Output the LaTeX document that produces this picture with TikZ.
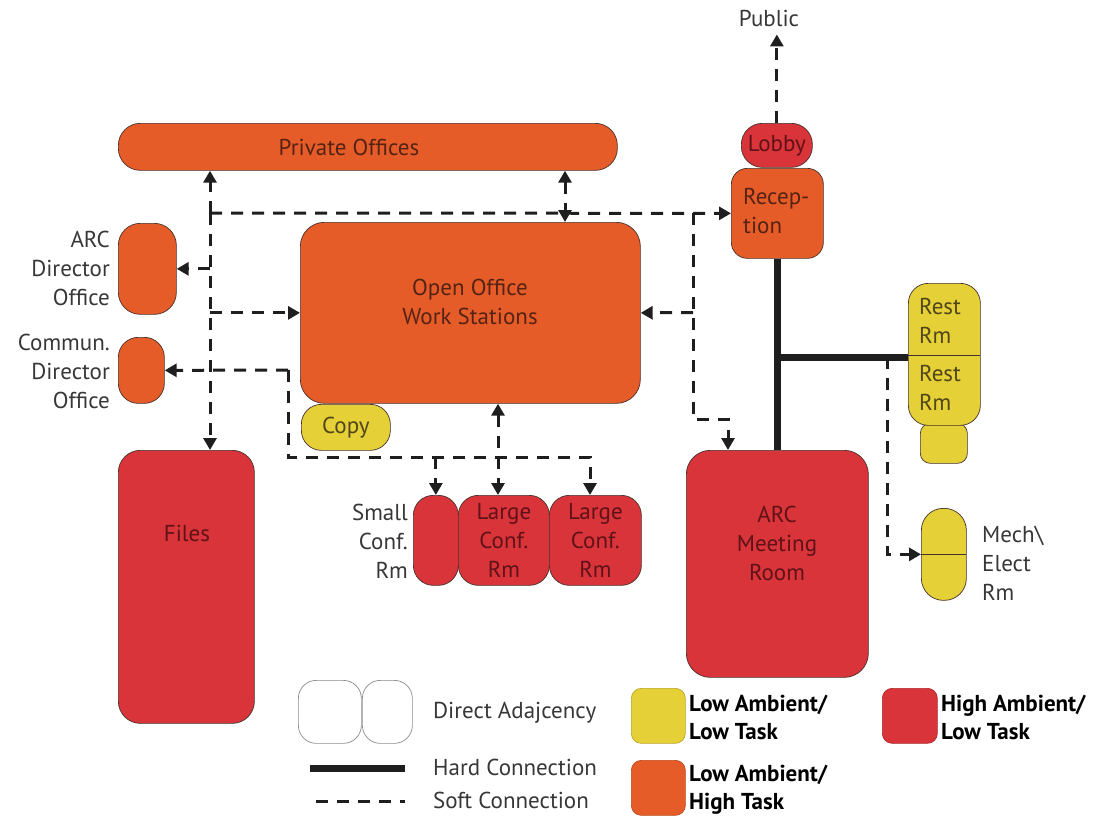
\documentclass[tikz,border=0pt]{standalone}
\usepackage{fontspec}
\setmainfont{PT Sans}
\usetikzlibrary{arrows.meta,calc}
\definecolor{cOr}{RGB}{230,92,40}
\definecolor{cRd}{RGB}{216,52,58}
\definecolor{cYl}{RGB}{229,208,55}
\definecolor{cEdge}{RGB}{70,50,45}
\definecolor{tOr}{RGB}{85,35,20}
\definecolor{tRd}{RGB}{95,18,24}
\definecolor{tYl}{RGB}{80,70,25}
\definecolor{cTx}{RGB}{55,55,55}
\definecolor{cLn}{RGB}{30,30,30}
\newcommand\roomfnt{\fontsize{23}{29}\selectfont}
\newcommand\legfnt{\fontsize{23}{28}\selectfont\bfseries}
\begin{document}
\begin{tikzpicture}[x=1pt,y=-1pt,
  room/.style={draw=cEdge,line width=0.7pt,inner sep=0pt,anchor=north west,align=center,font=\roomfnt},
  orr/.style={room,fill=cOr,text=tOr},
  rdr/.style={room,fill=cRd,text=tRd},
  ylr/.style={room,fill=cYl,text=tYl},
  lbl/.style={text=cTx,font=\roomfnt,inner sep=0pt},
  leg/.style={text=black,font=\legfnt,inner sep=0pt,align=left,anchor=west},
  soft/.style={draw=cLn,line width=3pt,dash pattern=on 12pt off 9pt},
  hard/.style={draw=cLn,line width=7pt},
  divline/.style={draw=cEdge,line width=0.7pt},
  >={Triangle[length=12pt,width=13pt]}]
\useasboundingbox (0,0) rectangle (1102,820);

% ---------- rooms ----------
\node[orr,rounded corners=22pt,minimum width=499pt,minimum height=47pt] (priv) at (118,123) {};
\node[text=tOr,font=\roomfnt,inner sep=0pt] (privtxt) at (349,147) {Private Offices};
\node[rdr,rounded corners=21pt,minimum width=71pt,minimum height=44pt] (lobby) at (741,123) {Lobby};
\node[orr,rounded corners=16pt,minimum width=92pt,minimum height=90pt] (recep) at (731,168) {};
\node[text=tOr,font=\roomfnt,inner sep=0pt,align=left,anchor=west] (receptxt) at (743,211) {Recep-\\tion};
\node[orr,rounded corners=24pt,minimum width=340pt,minimum height=181pt] (open) at (300,222) {};
\node[text=tOr,font=\roomfnt,inner sep=0pt,align=center] (opentxt) at (470,302) {Open Office\\Work Stations};
\node[ylr,rounded corners=20pt,minimum width=89pt,minimum height=46pt] (copy) at (301,404) {Copy};
\node[orr,rounded corners=22pt,minimum width=58pt,minimum height=91pt] (arcdir) at (118,223) {};
\node[orr,rounded corners=20pt,minimum width=46pt,minimum height=66pt] (comm) at (118,337) {};
\node[rdr,rounded corners=22pt,minimum width=136pt,minimum height=273pt] (files) at (118,450) {};
\node[text=tRd,font=\roomfnt,inner sep=0pt] (filestxt) at (187,533) {Files};
\node[rdr,rounded corners=20pt,minimum width=45pt,minimum height=90pt] (sconf) at (413,495) {};
\node[rdr,rounded corners=20pt,minimum width=91pt,minimum height=90pt] (lconfA) at (458,495) {Large\\Conf.\\Rm};
\node[rdr,rounded corners=20pt,minimum width=92pt,minimum height=90pt] (lconfB) at (549,495) {Large\\Conf.\\Rm};
\node[rdr,rounded corners=24pt,minimum width=182pt,minimum height=227pt] (meet) at (686,450) {};
\node[text=tRd,font=\roomfnt,inner sep=0pt,align=center] (meettxt) at (777,543) {ARC\\Meeting\\Room};
\node[ylr,rounded corners=10pt,minimum width=47pt,minimum height=40pt] (restsm) at (920,423) {};
\node[ylr,rounded corners=20pt,minimum width=72pt,minimum height=142pt] (restcol) at (908,283) {};
\draw[divline] (908,355) -- (980,355);
\node[text=tYl,font=\roomfnt,inner sep=0pt,align=left,anchor=west] (restA) at (919,321) {Rest\\Rm};
\node[text=tYl,font=\roomfnt,inner sep=0pt,align=left,anchor=west] (restB) at (919,388) {Rest\\Rm};
\node[ylr,rounded corners=22pt,minimum width=45pt,minimum height=92pt] (mech) at (921,508) {};
\draw[divline] (921,554) -- (966,554);

% ---------- outside labels ----------
\node[lbl] (public) at (769,18) {Public};
\node[lbl,align=right,anchor=east] (arcdirtxt) at (110,268) {ARC\\Director\\Office};
\node[lbl,align=right,anchor=east] (commtxt) at (110,371) {Commun.\\Director\\Office};
\node[lbl,align=right,anchor=east] (sconftxt) at (408,541) {Small\\Conf.\\Rm};
\node[lbl,align=left,anchor=west] (mechtxt) at (982,563) {Mech\textbackslash\\Elect\\Rm};

% ---------- junctions ----------
\coordinate (jTL) at (210,213);
\coordinate (jTM) at (565,213);
\coordinate (jTR) at (693,213);
\coordinate (jOR) at (693,312.5);
\coordinate (jMR) at (693,419);
\coordinate (jMA) at (728,419);
\coordinate (jBL) at (288,457);
\coordinate (jCL) at (288,370);
\coordinate (jBM) at (498,457);
\coordinate (jBR) at (590,457);
\coordinate (jR) at (887,357);

% ---------- hard connections ----------
\draw[hard] (recep.south) -- (recep.south |- meet.north);
\draw[hard] (recep.south |- jR) -- (restcol.west |- jR);

% ---------- soft connections ----------
\draw[soft,->] (lobby.north) -- ($(lobby.north |- public.south)+(0,8)$);
\draw[soft,->] (jTL) -- (recep.west);
\draw[soft,->] (jTL) -- (jTL |- priv.south);
\draw[soft,->] (jTL) -- (jTL |- files.north);
\draw[soft,<->] (jTM |- priv.south) -- (jTM |- open.north);
\draw[soft,->] (jTR) -- (jMR) -- (jMA) -- (jMA |- meet.north);
\draw[soft,->] (jOR) -- (open.east);
\draw[soft,->] (jTL |- arcdir.east) -- (arcdir.east);
\draw[soft,->] (jTL |- open.west) -- (open.west);
\draw[soft,->] (jCL) -- (comm.east);
\draw[soft,->] (jCL) -- (jBL) -- (jBR) -- (jBR |- lconfB.north);
\draw[soft,->] (sconf.north |- jBL) -- (sconf.north);
\draw[soft,<->] (jBM |- open.south) -- (jBM |- lconfA.north);
\draw[soft,->] (jR) |- (mech.west);

% ---------- legend ----------
\node[room,draw=black!45,fill=white,rounded corners=18pt,minimum width=63pt,minimum height=63pt] (legA) at (298,680) {};
\node[room,draw=black!45,fill=white,rounded corners=18pt,minimum width=50pt,minimum height=63pt] (legB) at (362,680) {};
\node[lbl,anchor=west] (legAtxt) at (433,713) {Direct Adajcency};
\coordinate (legH1) at (310,768);
\coordinate (legH2) at (405,768);
\draw[hard] (legH1) -- (legH2);
\node[lbl,anchor=west] (legHtxt) at (433,767) {Hard Connection};
\coordinate (legS1) at (316,801);
\coordinate (legS2) at (405,801);
\draw[soft] (legS1) -- (legS2);
\node[lbl,anchor=west] (legStxt) at (433,800) {Soft Connection};
\node[room,fill=cYl,draw=cYl!80!black,rounded corners=10pt,minimum width=54pt,minimum height=55pt] (legY) at (631,688) {};
\node[leg] (legYtxt) at (689,717) {Low Ambient/\\Low Task};
\node[room,fill=cOr,draw=cOr!80!black,rounded corners=10pt,minimum width=54pt,minimum height=55pt] (legO) at (631,760) {};
\node[leg] (legOtxt) at (689,790) {Low Ambient/\\High Task};
\node[room,fill=cRd,draw=cRd!80!black,rounded corners=10pt,minimum width=55pt,minimum height=55pt] (legR) at (882,688) {};
\node[leg] (legRtxt) at (941,717) {High Ambient/\\Low Task};
\end{tikzpicture}
\end{document}
